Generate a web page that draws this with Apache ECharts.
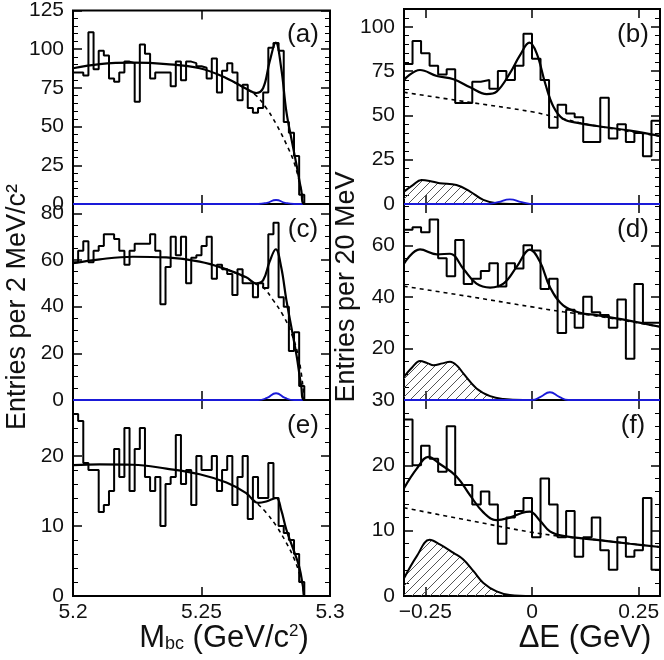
<!DOCTYPE html>
<html>
<head>
<meta charset="utf-8">
<script src="https://cdn.jsdelivr.net/npm/echarts@6/dist/echarts.min.js"></script>
<style>
html, body { margin: 0; padding: 0; background: #fff; }
#chart { width: 664px; height: 660px; }
</style>
</head>
<body>
<div id="chart"></div>
<script>
// bin setup
const mbcMin = 5.2, mbcMax = 5.3, mbcBin = 0.002
const deMin = -0.3, deMax = 0.3, deBin = 0.02
const mbcTicks = [5.2, 5.25, 5.3]
const deTicks = [-0.25, 0, 0.25]

// histogram counts (Mbc: 2 MeV bins, dE: 20 MeV bins)
const histA = [85, 85, 83, 111, 87, 99, 96, 81, 79, 85, 92, 91, 66, 103, 97, 81, 85, 85, 85, 76,
  92, 80, 92, 91, 89, 88, 81, 94, 72, 86, 91, 85, 67, 77, 62, 59, 62, 72, 101, 104,
  99, 53, 46, 31, 6, 0, 0, 0, 0, 0]
const histC = [59, 64, 68, 59, 64, 66, 71, 71, 69, 64, 58, 64, 67, 67, 67, 71, 64, 41, 57, 70,
  62, 70, 50, 61, 62, 66, 70, 52, 58, 56, 54, 45, 56, 50, 50, 44, 50, 48, 71, 76,
  44, 40, 21, 29, 6, 0, 0, 0, 0, 0]
const histE = [26, 25, 19, 18, 18, 12, 13, 15, 21, 17, 24, 15, 21, 24, 17, 15, 17, 10, 16, 17,
  23, 16, 18, 13, 20, 18, 18, 20, 15, 18, 20, 13, 17, 20, 11, 17, 14, 14, 19, 14,
  10, 9, 8, 6, 2, 0, 0, 0, 0, 0]
const histB = [79, 92, 85, 78, 73, 76, 57, 57, 69, 70, 65, 75, 70, 78, 96, 82, 70, 43, 56, 51,
  49, 35, 35, 60, 37, 45, 35, 40, 27, 47]
const histD = [66, 67, 65, 70, 55, 48, 62, 45, 47, 50, 53, 44, 53, 51, 60, 58, 43, 47, 26, 35,
  28, 40, 34, 33, 28, 39, 16, 45, 30, 30]
const histF = [27, 20, 23, 21, 19, 26, 17, 17, 14, 16, 14, 8, 12, 13, 15, 9, 18, 14, 9, 13,
  6, 9, 12, 7, 4, 9, 6, 7, 15, 4]

// fit curves: [x, y]
const fitA = [[5.2, 87.7], [5.2104, 90.4], [5.2233, 91.3], [5.2363, 90.4], [5.2493, 87.7], [5.2597, 81.3],
  [5.2674, 74.5], [5.2713, 71.7], [5.274, 74.9], [5.2765, 91.9], [5.2789, 104.3], [5.281, 88], [5.283, 60],
  [5.285, 42], [5.287, 25], [5.2888, 9], [5.29, 0], [5.3, 0]]
const bkgA = [[5.2597, 81.3], [5.2674, 74.3], [5.2713, 70], [5.2752, 62], [5.2791, 51.5], [5.283, 38.7],
  [5.2862, 26], [5.2888, 9], [5.29, 0]]
const sigA = [[5.2, 0], [5.272, 0], [5.2755, 0.8], [5.279, 2.6], [5.2825, 0.8], [5.286, 0], [5.3, 0]]

const fitC = [[5.2, 58.6], [5.2104, 60.3], [5.2233, 61.4], [5.2363, 61.1], [5.2493, 59.3], [5.2597, 56],
  [5.2674, 52.6], [5.2713, 50], [5.274, 51.4], [5.2765, 59.3], [5.2789, 64.6], [5.281, 57], [5.283, 43],
  [5.285, 31], [5.287, 19], [5.2888, 6], [5.29, 0], [5.3, 0]]
const bkgC = [[5.2597, 56], [5.2674, 52.4], [5.2713, 49.6], [5.274, 48.3], [5.2778, 42.9], [5.2817, 36.4],
  [5.285, 28.6], [5.288, 17.1], [5.29, 0]]
const sigC = [[5.2, 0], [5.272, 0], [5.2755, 0.9], [5.279, 2.9], [5.2825, 0.9], [5.286, 0], [5.3, 0]]

const fitE = [[5.2, 18.7], [5.2104, 18.8], [5.2233, 18.75], [5.2363, 18.2], [5.2493, 17.4], [5.2597, 16.2],
  [5.2674, 14.7], [5.272, 13.3], [5.2752, 13.5], [5.2791, 14], [5.281, 12.3], [5.283, 9.5], [5.2856, 6.8],
  [5.288, 4.2], [5.2895, 1.3], [5.29, 0], [5.3, 0]]
const bkgE = [[5.2674, 14.7], [5.272, 13.1], [5.2752, 11.9], [5.2791, 10], [5.283, 7.6], [5.2862, 5.2],
  [5.2888, 2.3], [5.29, 0]]

const fitB = [[-0.3, 70], [-0.2625, 75.6], [-0.223, 72.2], [-0.184, 70.4], [-0.145, 65.8], [-0.106, 62],
  [-0.083, 63.4], [-0.052, 73.7], [-0.028, 84], [-0.006, 91], [0.011, 85], [0.031, 68], [0.05, 55],
  [0.073, 48], [0.113, 45.5], [0.152, 44], [0.23, 41.4], [0.3, 38.4]]
const bkgB = [[-0.3, 63], [-0.15, 57.5], [0, 52], [0.073, 48], [0.15, 44], [0.3, 38.3]]
const peakB = [[-0.3, 7], [-0.28, 10.5], [-0.259, 13.5], [-0.24, 13], [-0.216, 11.7], [-0.177, 10.7],
  [-0.145, 7], [-0.114, 2.3], [-0.083, 0.4], [-0.05, 0], [0.3, 0]]
const sigB = [[-0.3, 0], [-0.11, 0], [-0.08, 1.0], [-0.052, 2.6], [-0.024, 1.0], [0.005, 0], [0.3, 0]]

const fitD = [[-0.3, 52.9], [-0.2625, 58.4], [-0.223, 56.5], [-0.192, 56.7], [-0.161, 50.9], [-0.13, 45.1],
  [-0.098, 43.6], [-0.067, 45.1], [-0.036, 51.6], [-0.005, 58.3], [0.019, 53.5], [0.042, 43.8],
  [0.073, 36.7], [0.113, 33.8], [0.152, 32.9], [0.23, 30.7], [0.3, 28.4]]
const bkgD = [[-0.3, 44.1], [-0.15, 40.2], [0, 36.1], [0.073, 34.2], [0.15, 32.6], [0.3, 28.4]]
const peakD = [[-0.3, 9], [-0.28, 12.8], [-0.2625, 15.1], [-0.245, 14.3], [-0.231, 13.5], [-0.21, 14.2],
  [-0.192, 14.8], [-0.175, 13.2], [-0.161, 10.3], [-0.13, 4.5], [-0.098, 1.5], [-0.067, 0.4], [-0.02, 0], [0.3, 0]]
const sigD = [[-0.3, 0], [0, 0], [0.02, 1.2], [0.042, 3], [0.064, 1.2], [0.085, 0], [0.3, 0]]

const fitF = [[-0.3, 16.5], [-0.27, 19.5], [-0.243, 21.3], [-0.216, 20.2], [-0.177, 18.3], [-0.145, 15.4],
  [-0.114, 12.8], [-0.083, 11.6], [-0.052, 12], [-0.024, 12.7], [-0.005, 12.9], [0.019, 11.5],
  [0.042, 9.9], [0.073, 9.2], [0.152, 8.6], [0.23, 8.0], [0.3, 7.5]]
const bkgF = [[-0.3, 13.5], [-0.15, 11.6], [-0.005, 9.8], [0.073, 9.1], [0.152, 8.6], [0.23, 8.0], [0.3, 7.5]]
const peakF = [[-0.3, 2.7], [-0.27, 6.1], [-0.24, 8.6], [-0.216, 7.9], [-0.184, 6.6], [-0.161, 5.6],
  [-0.137, 3.8], [-0.114, 2.0], [-0.083, 0.7], [-0.052, 0.15], [0, 0], [0.3, 0]]

const font = 'Liberation Sans'

const panels = [
  { tag: '(a)', hist: histA, fit: fitA, bkg: bkgA, sig: sigA, col: 0, row: 0, ymax: 125, yint: 25, minor: 5 },
  { tag: '(b)', hist: histB, fit: fitB, bkg: bkgB, sig: sigB, peak: peakB, col: 1, row: 0, ymax: 110, yint: 25, minor: 5 },
  { tag: '(c)', hist: histC, fit: fitC, bkg: bkgC, sig: sigC, col: 0, row: 1, ymax: 84, yint: 20, minor: 4 },
  { tag: '(d)', hist: histD, fit: fitD, bkg: bkgD, sig: sigD, peak: peakD, col: 1, row: 1, ymax: 76, yint: 20, minor: 4, hideMin: true },
  { tag: '(e)', hist: histE, fit: fitE, bkg: bkgE, col: 0, row: 2, ymax: 28, yint: 10, minor: 5 },
  { tag: '(f)', hist: histF, fit: fitF, bkg: bkgF, peak: peakF, col: 1, row: 2, ymax: 30, yint: 10, minor: 5 }
]

const rowTop = [9, 204, 400]
const rowH = [195, 196, 196]
const colLeft = [73, 404]
const colW = [257, 256]

function steps (counts, x0, w) {
  const pts = counts.map((c, i) => [+(x0 + i * w).toFixed(4), c])
  pts.push([+(x0 + counts.length * w).toFixed(4), counts[counts.length - 1]])
  return pts
}

function hatchImage () {
  const c = document.createElement('canvas')
  c.width = 9
  c.height = 9
  const g = c.getContext('2d')
  g.strokeStyle = '#555'
  g.lineWidth = 1
  g.beginPath()
  g.moveTo(0, 9); g.lineTo(9, 0)
  g.moveTo(-1, 1); g.lineTo(1, -1)
  g.moveTo(8, 10); g.lineTo(10, 8)
  g.stroke()
  return c
}
const hatch = hatchImage()

const grid = [], xAxis = [], yAxis = [], series = [], graphic = []

panels.forEach((p, i) => {
  const left = p.col === 0
  grid.push({
    left: colLeft[p.col], top: rowTop[p.row], width: colW[p.col], height: rowH[p.row],
    show: true, borderColor: '#000', borderWidth: 2, backgroundColor: 'transparent'
  })
  const xmin = left ? mbcMin : deMin
  const xmax = left ? mbcMax : deMax
  const xt = left ? mbcTicks : deTicks
  const fmt = v => left ? String(v) : (v < 0 ? '\u2212' + String(-v) : String(v))
  const tickStyle = { color: '#000', width: 1.5 }
  xAxis.push({
    gridIndex: i, type: 'value', min: xmin, max: xmax, position: 'bottom',
    axisLine: { show: false, onZero: false }, splitLine: { show: false },
    axisTick: { inside: true, length: 9, customValues: xt, lineStyle: tickStyle },
    axisLabel: { show: p.row === 2, customValues: xt, formatter: fmt, margin: 6, fontSize: 21, color: '#111', fontFamily: font }
  })
  xAxis.push({
    gridIndex: i, type: 'value', min: xmin, max: xmax, position: 'top',
    axisLine: { show: false, onZero: false }, splitLine: { show: false },
    axisTick: { inside: true, length: 9, customValues: xt, lineStyle: tickStyle },
    axisLabel: { show: false }
  })
  const yBase = {
    gridIndex: i, type: 'value', min: 0, max: p.ymax, interval: p.yint,
    axisLine: { show: false, onZero: false }, splitLine: { show: false },
    axisTick: { inside: true, length: 9, lineStyle: tickStyle },
    minorTick: { show: true, splitNumber: p.minor, length: 5, lineStyle: { color: '#000', width: 1 } }
  }
  yAxis.push(Object.assign({}, yBase, {
    position: 'left',
    axisLabel: {
      fontSize: 21, color: '#111', fontFamily: font, margin: 9,
      showMaxLabel: p.ymax % p.yint === 0, showMinLabel: !p.hideMin
    }
  }))
  yAxis.push(Object.assign({}, yBase, { position: 'right', axisLabel: { show: false } }))

  const ax = { xAxisIndex: 2 * i, yAxisIndex: 2 * i, symbol: 'none', silent: true, animation: false }
  if (p.peak) {
    series.push(Object.assign({}, ax, {
      type: 'line', data: p.peak, smooth: 0.4, z: 2,
      lineStyle: { color: '#000', width: 2 },
      areaStyle: { color: { image: hatch, repeat: 'repeat' }, opacity: 1 }
    }))
  }
  if (p.sig) {
    series.push(Object.assign({}, ax, {
      type: 'line', data: p.sig, smooth: 0.5, z: 3,
      lineStyle: { color: '#1a1ad8', width: 1.8 }
    }))
  }
  series.push(Object.assign({}, ax, {
    type: 'line', data: steps(p.hist, xmin, left ? mbcBin : deBin), step: 'end', z: 4,
    lineStyle: { color: '#000', width: 2 }
  }))
  series.push(Object.assign({}, ax, {
    type: 'line', data: p.bkg, smooth: 0.4, z: 5,
    lineStyle: { color: '#000', width: 1.6, type: [4, 4] }
  }))
  series.push(Object.assign({}, ax, {
    type: 'line', data: p.fit, smooth: 0.4, z: 6,
    lineStyle: { color: '#000', width: 2.2 }
  }))

  graphic.push({
    type: 'text', x: colLeft[p.col] + colW[p.col] - 27, y: rowTop[p.row] + 26,
    style: { text: p.tag, fontSize: 26, fontFamily: font, fill: '#111', align: 'center', verticalAlign: 'middle' }
  })
})

graphic.push({
  type: 'text', x: 18, y: 307, rotation: Math.PI / 2,
  style: { text: 'Entries per 2 MeV/c\u00b2', fontSize: 27, fontFamily: font, fill: '#111', align: 'center', verticalAlign: 'middle' }
})
graphic.push({
  type: 'text', x: 347, y: 287, rotation: Math.PI / 2,
  style: { text: 'Entries per 20 MeV', fontSize: 27, fontFamily: font, fill: '#111', align: 'center', verticalAlign: 'middle' }
})
graphic.push({
  type: 'text', x: 224, y: 638,
  style: {
    text: '{b|M}{s|bc}{b| (GeV/c}{p|2}{b|)}', align: 'center', verticalAlign: 'middle',
    rich: {
      b: { fontSize: 31, fontFamily: font, fill: '#111' },
      s: { fontSize: 18, fontFamily: font, fill: '#111', verticalAlign: 'bottom' },
      p: { fontSize: 17, fontFamily: font, fill: '#111', verticalAlign: 'top' }
    }
  }
})
graphic.push({
  type: 'text', x: 585, y: 638,
  style: { text: '\u0394E (GeV)', fontSize: 31, fontFamily: font, fill: '#111', align: 'center', verticalAlign: 'middle' }
})

const chart = echarts.init(document.getElementById('chart'))
chart.setOption({
  animation: false,
  grid,
  xAxis,
  yAxis,
  series,
  graphic
})
</script>
</body>
</html>
